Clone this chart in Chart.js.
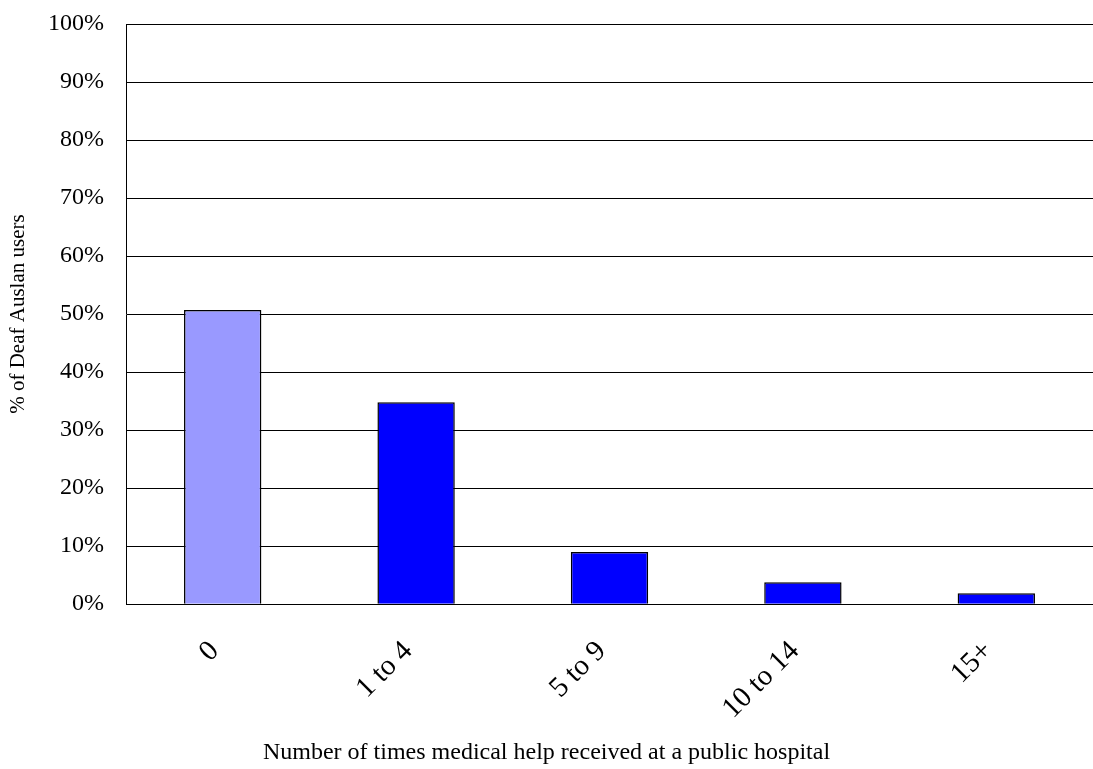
<!DOCTYPE html>
<html>
<head>
<meta charset="utf-8">
<script src="https://cdn.jsdelivr.net/npm/chart.js@4.4.1/dist/chart.umd.min.js"></script>
<style>
  html, body { margin: 0; padding: 0; background: #fff; }
  #wrap { width: 1093px; height: 769px; position: relative; }
</style>
</head>
<body>
<div id="wrap"><canvas id="c" width="1093" height="769"></canvas></div>
<script>
const categories = ["0", "1 to 4", "5 to 9", "10 to 14", "15+"];
const percentUsers = [50.7, 34.8, 9.0, 3.8, 1.9];
const barColors = ["#9999FF", "#0000FF", "#0000FF", "#0000FF", "#0000FF"];
const yTitle = "% of Deaf Auslan users";
const xTitle = "Number of times medical help received at a public hospital";

const FONT = "'Liberation Serif', 'Times New Roman', serif";

new Chart(document.getElementById('c'), {
  type: 'bar',
  data: {
    labels: categories,
    datasets: [{
      data: percentUsers,
      backgroundColor: barColors,
      borderColor: '#000',
      borderWidth: 1.5,
      categoryPercentage: 1.0,
      barPercentage: 0.4
    }]
  },
  options: {
    responsive: false,
    animation: false,
    devicePixelRatio: 1,
    layout: { padding: { top: 24, right: 0, left: 0, bottom: 0 } },
    plugins: {
      legend: { display: false },
      tooltip: { enabled: false },
      title: {
        display: true, position: 'bottom', text: xTitle, color: '#000',
        font: { family: FONT, size: 24, weight: 'normal' },
        padding: { top: 0, bottom: 2 }
      }
    },
    scales: {
      x: {
        grid: { display: false, drawTicks: false },
        border: { display: true, color: '#000', width: 1 },
        ticks: {
          color: '#000',
          font: { family: FONT, size: 29 },
          minRotation: 45, maxRotation: 45,
          padding: 30,
          labelOffset: -8
        },
        afterFit: (s) => { s.height = 134; s.paddingLeft = 0; s.paddingRight = 0; }
      },
      y: {
        min: 0, max: 100,
        grid: { color: '#000', lineWidth: 1, drawTicks: false },
        border: { display: true, color: '#000', width: 1 },
        ticks: {
          stepSize: 10, color: '#000',
          font: { family: FONT, size: 24 },
          padding: 22,
          callback: (v) => v + '%'
        },
        title: {
          display: true, text: yTitle, color: '#000',
          font: { family: FONT, size: 21 },
          padding: { top: 6, bottom: 0 }
        },
        afterFit: (s) => { s.width = 126; s.paddingTop = 0; s.paddingBottom = 0; }
      }
    }
  }
});
</script>
</body>
</html>
